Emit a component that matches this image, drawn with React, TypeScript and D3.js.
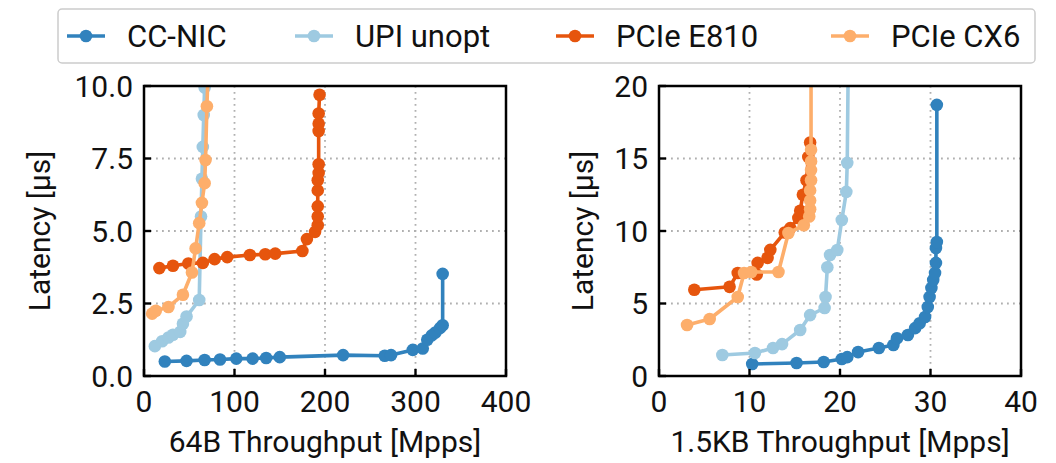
import React, { useEffect, useRef } from "react";
import * as d3 from "d3";

// series names + colors (tab20c blues / oranges)
const seriesNames = ["CC-NIC", "UPI unopt", "PCIe E810", "PCIe CX6"];
const seriesColors = ["#3182bd", "#9ecae1", "#e6550d", "#fdae6b"];

// left panel: 64B throughput [Mpps] vs latency [us]
const left_ccnic: [number, number][] = [
  [23, 0.5], [47, 0.52], [67, 0.55], [84, 0.57], [102, 0.6], [120, 0.6], [135, 0.62], [150, 0.65],
  [220, 0.72], [266, 0.7], [273, 0.72], [297, 0.9], [308, 0.95], [313, 1.25], [318, 1.4],
  [322, 1.5], [327, 1.65], [330, 1.75], [330, 3.52],
];
const left_upi: [number, number][] = [
  [12, 1.03], [20, 1.2], [27, 1.33], [32, 1.42], [40, 1.52], [43, 1.8], [47, 2.05], [61, 2.62],
  [63, 5.5], [64, 6.8], [65, 7.9], [66, 9.0], [67, 9.95], [68, 10.6],
];
const left_e810: [number, number][] = [
  [17, 3.72], [32, 3.8], [49, 3.88], [65, 3.9], [78, 4.03], [92, 4.1], [117, 4.17], [134, 4.2],
  [145, 4.22], [175, 4.31], [180, 4.72], [189, 4.97], [192, 5.2], [192, 5.5], [192, 5.85],
  [192, 6.4], [192, 6.75], [193, 7.0], [193, 7.3], [193, 8.45], [193, 8.7], [193, 9.05], [194, 9.7],
];
const left_cx6: [number, number][] = [
  [9, 2.15], [13, 2.25], [27, 2.38], [43, 2.8], [53, 3.57], [57, 4.4], [61, 5.27], [64, 5.97],
  [67, 6.65], [68, 7.45], [69.5, 9.3], [71, 10.6],
];

// right panel: 1.5KB throughput [Mpps] vs latency [us]
const right_ccnic: [number, number][] = [
  [10.3, 0.83], [15.2, 0.9], [18.2, 0.97], [20.2, 1.17], [20.8, 1.3], [22.0, 1.65], [24.3, 1.93],
  [25.9, 2.14], [26.3, 2.6], [27.5, 2.83], [28.3, 3.3], [28.8, 3.64], [29.4, 4.07], [29.7, 4.76],
  [29.9, 5.45], [30.1, 6.07], [30.3, 6.62], [30.5, 7.1], [30.6, 7.8], [30.6, 8.83], [30.7, 9.24],
  [30.7, 18.7],
];
const right_upi: [number, number][] = [
  [7.0, 1.45], [10.6, 1.59], [12.6, 1.93], [13.6, 2.2], [15.6, 3.17], [16.7, 4.2], [18.3, 4.69],
  [18.4, 5.45], [18.6, 7.5], [18.9, 8.34], [19.7, 8.69], [20.2, 10.76], [20.7, 12.7], [20.8, 14.7],
  [20.9, 21],
];
const right_e810: [number, number][] = [
  [3.9, 5.95], [7.8, 6.15], [8.7, 7.1], [10.8, 7.0], [10.9, 7.8], [12.0, 8.15], [12.3, 8.7],
  [13.9, 9.9], [14.5, 10.2], [15.4, 10.9], [15.6, 11.4], [15.9, 12.5], [16.3, 13.5], [16.5, 15.1],
  [16.7, 16.1],
];
const right_cx6: [number, number][] = [
  [3.1, 3.52], [5.6, 3.93], [8.7, 5.45], [9.4, 7.1], [10.2, 7.17], [13.2, 7.17], [14.3, 9.86],
  [16.0, 10.4], [16.6, 11.0], [16.7, 11.5], [16.7, 12.1], [16.7, 12.8], [16.8, 13.5], [16.8, 14.2],
  [16.8, 14.8], [16.8, 15.6], [16.8, 21],
];

const leftXTicks = [0, 100, 200, 300, 400];
const leftYTicks = [0, 2.5, 5, 7.5, 10];
const rightXTicks = [0, 10, 20, 30, 40];
const rightYTicks = [0, 5, 10, 15, 20];

const FONT = "Roboto, 'DejaVu Sans', sans-serif";

const App = () => {
  const ref = useRef<SVGSVGElement>(null);

  useEffect(() => {
    const svg = d3.select(ref.current);
    svg.selectAll("*").remove();

    const top = 86, bottom = 376, w = 362;

    const panels = [
      {
        left: 144, xMax: 400, yMax: 10, xTicks: leftXTicks, yTicks: leftYTicks,
        yFmt: d3.format(".1f"), xLabel: "64B Throughput [Mpps]", yLabelX: 40,
        series: [left_ccnic, left_upi, left_e810, left_cx6],
      },
      {
        left: 659, xMax: 40, yMax: 20, xTicks: rightXTicks, yTicks: rightYTicks,
        yFmt: d3.format("d"), xLabel: "1.5KB Throughput [Mpps]", yLabelX: 583,
        series: [right_ccnic, right_upi, right_e810, right_cx6],
      },
    ];

    panels.forEach((p, pi) => {
      const x = d3.scaleLinear().domain([0, p.xMax]).range([p.left, p.left + w]);
      const y = d3.scaleLinear().domain([0, p.yMax]).range([bottom, top]);
      const g = svg.append("g");

      const clipId = `clip${pi}`;
      svg.append("clipPath").attr("id", clipId)
        .append("rect").attr("x", p.left).attr("y", top).attr("width", w).attr("height", bottom - top);

      // grid
      g.selectAll(".gx").data(p.xTicks.slice(1, -1)).join("line")
        .attr("x1", (d) => x(d)).attr("x2", (d) => x(d)).attr("y1", top).attr("y2", bottom)
        .attr("stroke", "#b0b0b0").attr("stroke-width", 1.8).attr("stroke-dasharray", "1.8,4.2");
      g.selectAll(".gy").data(p.yTicks.slice(1, -1)).join("line")
        .attr("y1", (d) => y(d)).attr("y2", (d) => y(d)).attr("x1", p.left).attr("x2", p.left + w)
        .attr("stroke", "#b0b0b0").attr("stroke-width", 1.8).attr("stroke-dasharray", "1.8,4.2");

      // series
      const line = d3.line<[number, number]>().x((d) => x(d[0])).y((d) => y(d[1]));
      const plot = g.append("g").attr("clip-path", `url(#${clipId})`);
      p.series.forEach((data, si) => {
        plot.append("path").datum(data)
          .attr("fill", "none").attr("stroke", seriesColors[si]).attr("stroke-width", 3.6)
          .attr("stroke-linejoin", "round").attr("d", line);
        plot.selectAll(null).data(data).join("circle")
          .attr("cx", (d) => x(d[0])).attr("cy", (d) => y(d[1])).attr("r", 6.3)
          .attr("fill", seriesColors[si]);
      });

      // axes frame
      g.append("rect").attr("x", p.left).attr("y", top).attr("width", w).attr("height", bottom - top)
        .attr("fill", "none").attr("stroke", "#000").attr("stroke-width", 2.5);

      // inward ticks
      g.selectAll(".tx").data(p.xTicks).join("line")
        .attr("x1", (d) => x(d)).attr("x2", (d) => x(d)).attr("y1", bottom).attr("y2", bottom - 7)
        .attr("stroke", "#000").attr("stroke-width", 2.4);
      g.selectAll(".ty").data(p.yTicks).join("line")
        .attr("y1", (d) => y(d)).attr("y2", (d) => y(d)).attr("x1", p.left).attr("x2", p.left + 7)
        .attr("stroke", "#000").attr("stroke-width", 2.4);

      g.selectAll(".lx").data(p.xTicks).join("text")
        .attr("x", (d) => x(d)).attr("y", bottom + 36).attr("text-anchor", "middle")
        .attr("font-family", FONT).attr("font-size", 30).attr("fill", "#111")
        .text((d) => String(d));
      g.selectAll(".ly").data(p.yTicks).join("text")
        .attr("x", p.left - 11).attr("y", (d) => y(d) + 10.5).attr("text-anchor", "end")
        .attr("font-family", FONT).attr("font-size", 30).attr("fill", "#111")
        .text((d) => p.yFmt(d));

      g.append("text").attr("x", p.left + w / 2).attr("y", 452).attr("text-anchor", "middle")
        .attr("font-family", FONT).attr("font-size", 30).attr("fill", "#111").text(p.xLabel);
      g.append("text")
        .attr("transform", `translate(${p.yLabelX + 10},${(top + bottom) / 2}) rotate(-90)`)
        .attr("text-anchor", "middle")
        .attr("font-family", FONT).attr("font-size", 30).attr("fill", "#111").text("Latency [μs]");
    });

    // legend
    const lg = svg.append("g");
    lg.append("rect").attr("x", 58).attr("y", 9).attr("width", 977).attr("height", 54).attr("rx", 4)
      .attr("fill", "#fff").attr("stroke", "#cccccc").attr("stroke-width", 1.5);
    const legendX = [67, 295, 556, 831];
    seriesNames.forEach((name, i) => {
      const lx = legendX[i];
      lg.append("line").attr("x1", lx).attr("x2", lx + 38).attr("y1", 36).attr("y2", 36)
        .attr("stroke", seriesColors[i]).attr("stroke-width", 3.6);
      lg.append("circle").attr("cx", lx + 19).attr("cy", 36).attr("r", 6.3).attr("fill", seriesColors[i]);
      lg.append("text").attr("x", lx + 60).attr("y", 47)
        .attr("font-family", FONT).attr("font-size", 31).attr("fill", "#111").text(name);
    });
  }, []);

  return (
    <svg ref={ref} width={1056} height={463} style={{ display: "block", position: "absolute", left: 0, top: 0 }} />
  );
};

export default App;
